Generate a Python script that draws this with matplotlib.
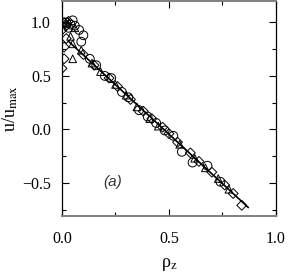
import matplotlib
matplotlib.use("Agg")
import matplotlib.pyplot as plt
from matplotlib.ticker import MultipleLocator

plt.rcParams['font.family'] = ['Liberation Serif', 'DejaVu Serif']
plt.rcParams['mathtext.fontset'] = 'stix'

# open circles
circ_x = [0.02, 0.04, 0.06, 0.08, 0.10, 0.05, 0.03, 0.09, 0.13, 0.16, 0.20, 0.23,
          0.28, 0.31, 0.36, 0.40, 0.44, 0.48, 0.52, 0.56, 0.61, 0.68, 0.74]
circ_y = [1.00, 0.98, 0.97, 0.93, 0.88, 1.02, 0.95, 0.82, 0.66, 0.60, 0.50, 0.48,
          0.35, 0.30, 0.18, 0.12, 0.06, -0.01, -0.06, -0.21, -0.31, -0.34, -0.49]

# open diamonds
diam_x = [0.01, 0.02, 0.03, 0.00, 0.00, 0.01, 0.01, 0.02, 0.10, 0.15, 0.22, 0.26,
          0.32, 0.38, 0.42, 0.47, 0.50, 0.54, 0.60, 0.64, 0.70, 0.76, 0.80, 0.84]
diam_y = [1.00, 0.97, 1.01, 0.93, 0.57, 0.66, 0.77, 0.85, 0.70, 0.60, 0.48, 0.40,
          0.28, 0.17, 0.10, 0.02, -0.04, -0.12, -0.22, -0.30, -0.40, -0.52, -0.60, -0.71]

# open triangles
tri_x = [0.05, 0.05, 0.04, 0.02, 0.06, 0.09, 0.14, 0.18, 0.25, 0.30, 0.35, 0.41,
         0.45, 0.55, 0.62, 0.67, 0.73, 0.78]
tri_y = [0.66, 0.80, 0.87, 0.99, 0.95, 0.74, 0.62, 0.54, 0.42, 0.32, 0.21, 0.10,
         0.03, -0.14, -0.27, -0.36, -0.46, -0.56]

# fitted line
fit_x = [0.03, 0.87]
fit_y = [0.825, -0.73]

fig = plt.figure(figsize=(2.89, 2.72), dpi=100)
ax = fig.add_axes([0.2145, 0.206, 0.7405, 0.790])

mk = dict(facecolor='none', edgecolor='black', linewidths=0.7, zorder=3)
ax.scatter(circ_x, circ_y, marker='o', s=40, **mk)
ax.scatter(diam_x, diam_y, marker='D', s=25, **mk)
ax.scatter(tri_x, tri_y, marker='^', s=30, **mk)
ax.plot(fit_x, fit_y, color='black', lw=1.2, zorder=4)

ax.text(0.235, -0.49, '(a)', fontsize=11, style='italic',
        family=['Liberation Sans', 'DejaVu Sans'], color='#333333',
        ha='center', va='center')

ax.set_xlim(0, 1.0)
ax.set_ylim(-0.81, 1.2)
ax.xaxis.set_major_locator(MultipleLocator(0.5))
ax.xaxis.set_minor_locator(MultipleLocator(0.25))
ax.yaxis.set_major_locator(MultipleLocator(0.5))
ax.yaxis.set_minor_locator(MultipleLocator(0.25))
ax.tick_params(which='both', direction='in', top=True, right=True, labelsize=11.5)
ax.tick_params(which='major', length=5, width=0.8)
ax.tick_params(which='minor', length=3, width=0.8)
ax.tick_params(axis='x', pad=11)
ax.tick_params(axis='y', pad=8)
for s in ['top', 'bottom']:
    ax.spines[s].set_color('#808080')
    ax.spines[s].set_linewidth(1.4)
for s in ['left', 'right']:
    ax.spines[s].set_linewidth(0.9)

ax.set_xlabel('ρ$_\\mathrm{z}$', fontsize=13, labelpad=6)
ax.set_ylabel('u/u$_\\mathrm{max}$', fontsize=13, labelpad=1.5)

fig.savefig('out.png', dpi=100)
